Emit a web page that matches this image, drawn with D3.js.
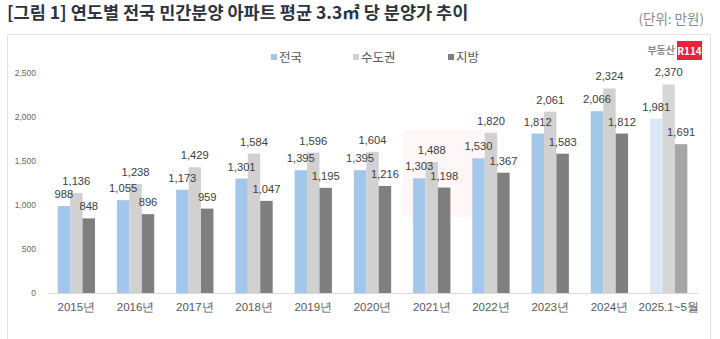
<!DOCTYPE html>
<html><head><meta charset="utf-8">
<script src="https://cdn.jsdelivr.net/npm/d3@7"></script>
<style>body{margin:0;background:#fff;}svg{display:block;font-family:"Noto Sans CJK KR","Noto Sans",sans-serif;}</style>
</head><body>
<svg id="c" width="720" height="339"></svg>
<script>
const categories = ["2015년","2016년","2017년","2018년","2019년","2020년","2021년","2022년","2023년","2024년","2025.1~5월"];
const seriesNames = ["전국","수도권","지방"];
const national = [988,1055,1173,1301,1395,1395,1303,1530,1812,2066,1981];
const capital = [1136,1238,1429,1584,1596,1604,1488,1820,2061,2324,2370];
const regional = [848,896,959,1047,1195,1216,1198,1367,1583,1812,1691];
const yTicks = [0,500,1000,1500,2000,2500];

const colors = ["#a3c7ea","#d1d1d1","#7f7f7f"];
const lastColors = ["#dbe8f6","#d6d6d6","#a6a6a6"];
const seriesData = [national, capital, regional];

const svg = d3.select("#c");
// frame
svg.append("path").attr("d","M7.5,340 V34.5 H710.5 V340").attr("fill","none").attr("stroke","#e3e3e3");

// title
svg.append("text").attr("x",7).attr("y",19).attr("font-size",17.5).attr("font-weight","bold").attr("fill","#2e3440")
  .text("[그림 1] 연도별 전국 민간분양 아파트 평균 3.3㎡ 당 분양가 추이");
svg.append("text").attr("x",704).attr("y",24).attr("text-anchor","end").attr("font-size",13.5).attr("fill","#8a8a8a").text("(단위: 만원)");

// watermark
svg.append("rect").attr("x",403).attr("y",130).attr("width",94).attr("height",87).attr("fill","#f7c6cc").attr("opacity",0.16);

// logo
svg.append("text").attr("x",675).attr("y",54).attr("text-anchor","end").attr("font-size",10).attr("font-weight","bold").attr("fill","#8c8c8c").text("부동산");
svg.append("rect").attr("x",677).attr("y",41).attr("width",25).attr("height",19).attr("fill","#e8243c");
svg.append("text").attr("x",689.5).attr("y",55).attr("text-anchor","middle").attr("font-size",10).attr("font-weight","bold").attr("fill","#fff").text("R114");

const x0 = d3.scaleBand().domain(categories).range([47,698]).paddingInner(0.37).paddingOuter(0.18);
const x1 = d3.scaleBand().domain(seriesNames).range([0,x0.bandwidth()]);
const y = d3.scaleLinear().domain([0,2500]).range([293,73]);

// y axis
const ya = svg.append("g").attr("transform","translate(39,0)").call(d3.axisLeft(y).tickValues(yTicks).tickFormat(d3.format(",")).tickSize(0));
ya.select(".domain").remove();
ya.selectAll("text").attr("font-size",8.5).attr("fill","#666").attr("font-family","Liberation Sans, Arial, sans-serif");

// legend
const legX = [271,353,448];
seriesNames.forEach((s,i)=>{
  svg.append("rect").attr("x",legX[i]).attr("y",54).attr("width",6).attr("height",6).attr("fill",colors[i]);
  svg.append("text").attr("x",legX[i]+8).attr("y",62).attr("font-size",12.5).attr("fill","#595959").text(s);
});

// bars
const g = svg.append("g");
categories.forEach((c,ci)=>{
  seriesNames.forEach((s,si)=>{
    const v = seriesData[si][ci];
    const isLast = ci === categories.length-1;
    g.append("rect").attr("x",x0(c)+x1(s)).attr("y",y(v)).attr("width",x1.bandwidth()).attr("height",y(0)-y(v))
      .attr("fill", isLast ? lastColors[si] : colors[si]);
  });
});
categories.forEach((c,ci)=>{
  seriesNames.forEach((s,si)=>{
    const v = seriesData[si][ci];
    g.append("text").attr("x",x0(c)+x1(s)+x1.bandwidth()/2).attr("y",y(v)-8).attr("text-anchor","middle")
      .attr("font-size",11.2).attr("font-family","Liberation Sans, Arial, sans-serif")
      .attr("fill","#404040").text(d3.format(",")(v));
  });
});

// x axis
const xa = svg.append("g").attr("transform","translate(0,293)").call(d3.axisBottom(x0).tickSize(0).tickPadding(10));
xa.select(".domain").attr("stroke","#d9d9d9");
xa.selectAll("text").attr("font-size",11.5).attr("fill","#595959");
</script>
</body></html>
